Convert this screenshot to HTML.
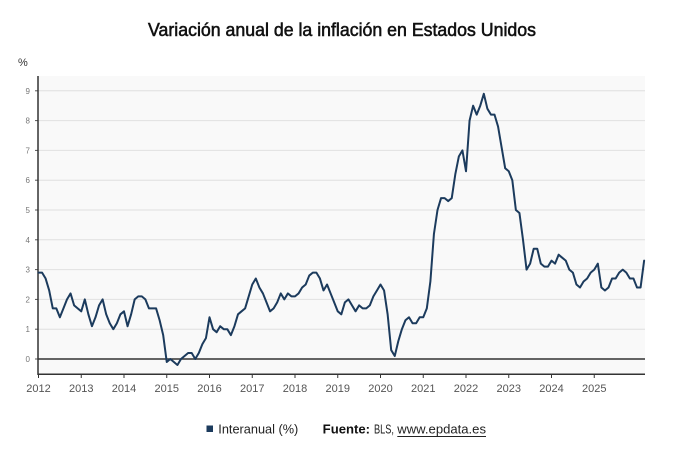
<!DOCTYPE html>
<html><head><meta charset="utf-8"><style>
html,body{margin:0;padding:0;background:#fff;}
svg{display:block;}
</style></head><body>
<svg width="690" height="460" viewBox="0 0 690 460" xmlns="http://www.w3.org/2000/svg" font-family="'Liberation Sans', sans-serif">
<rect x="0" y="0" width="690" height="460" fill="#fff"/>
<text x="342" y="36" font-size="18" fill="#111" stroke="#111" stroke-width="0.55" text-anchor="middle" textLength="388" lengthAdjust="spacingAndGlyphs">Variación anual de la inflación en Estados Unidos</text>
<text x="18" y="66" font-size="11" fill="#333">%</text>
<rect x="38" y="76" width="607" height="298" fill="#f9f9f9"/>
<g stroke="#e0e0e0" stroke-width="1">
<line x1="38" y1="329.2" x2="645" y2="329.2"/>
<line x1="38" y1="299.4" x2="645" y2="299.4"/>
<line x1="38" y1="269.6" x2="645" y2="269.6"/>
<line x1="38" y1="239.8" x2="645" y2="239.8"/>
<line x1="38" y1="210" x2="645" y2="210"/>
<line x1="38" y1="180.2" x2="645" y2="180.2"/>
<line x1="38" y1="150.4" x2="645" y2="150.4"/>
<line x1="38" y1="120.6" x2="645" y2="120.6"/>
<line x1="38" y1="90.8" x2="645" y2="90.8"/>
</g>
<g stroke="#555" stroke-width="1">
<line x1="35" y1="359" x2="38" y2="359"/>
<line x1="35" y1="329.2" x2="38" y2="329.2"/>
<line x1="35" y1="299.4" x2="38" y2="299.4"/>
<line x1="35" y1="269.6" x2="38" y2="269.6"/>
<line x1="35" y1="239.8" x2="38" y2="239.8"/>
<line x1="35" y1="210" x2="38" y2="210"/>
<line x1="35" y1="180.2" x2="38" y2="180.2"/>
<line x1="35" y1="150.4" x2="38" y2="150.4"/>
<line x1="35" y1="120.6" x2="38" y2="120.6"/>
<line x1="35" y1="90.8" x2="38" y2="90.8"/>
</g>
<g font-size="8" fill="#777" text-anchor="end">
<text x="30" y="362">0</text>
<text x="30" y="332.2">1</text>
<text x="30" y="302.4">2</text>
<text x="30" y="272.6">3</text>
<text x="30" y="242.8">4</text>
<text x="30" y="213">5</text>
<text x="30" y="183.2">6</text>
<text x="30" y="153.4">7</text>
<text x="30" y="123.6">8</text>
<text x="30" y="93.8">9</text>
</g>
<line x1="38" y1="359" x2="645" y2="359" stroke="#333" stroke-width="1.5"/>
<line x1="38" y1="374.3" x2="645" y2="374.3" stroke="#333" stroke-width="1.5"/>
<line x1="38" y1="76" x2="38" y2="375" stroke="#333" stroke-width="1.5"/>
<g stroke="#333" stroke-width="1">
<line x1="38.5" y1="374" x2="38.5" y2="378"/>
<line x1="81.25" y1="374" x2="81.25" y2="378"/>
<line x1="124" y1="374" x2="124" y2="378"/>
<line x1="166.75" y1="374" x2="166.75" y2="378"/>
<line x1="209.5" y1="374" x2="209.5" y2="378"/>
<line x1="252.25" y1="374" x2="252.25" y2="378"/>
<line x1="295" y1="374" x2="295" y2="378"/>
<line x1="337.75" y1="374" x2="337.75" y2="378"/>
<line x1="380.5" y1="374" x2="380.5" y2="378"/>
<line x1="423.25" y1="374" x2="423.25" y2="378"/>
<line x1="466" y1="374" x2="466" y2="378"/>
<line x1="508.75" y1="374" x2="508.75" y2="378"/>
<line x1="551.5" y1="374" x2="551.5" y2="378"/>
<line x1="594.25" y1="374" x2="594.25" y2="378"/>
</g>
<g font-size="11" fill="#555" text-anchor="middle">
<text x="38.5" y="392">2012</text>
<text x="81.25" y="392">2013</text>
<text x="124" y="392">2014</text>
<text x="166.75" y="392">2015</text>
<text x="209.5" y="392">2016</text>
<text x="252.25" y="392">2017</text>
<text x="295" y="392">2018</text>
<text x="337.75" y="392">2019</text>
<text x="380.5" y="392">2020</text>
<text x="423.25" y="392">2021</text>
<text x="466" y="392">2022</text>
<text x="508.75" y="392">2023</text>
<text x="551.5" y="392">2024</text>
<text x="594.25" y="392">2025</text>
</g>
<g transform="translate(38.5,359) scale(3.5625,-29.8)">
<polyline fill="none" stroke="#1c3b5d" stroke-width="2" stroke-linejoin="round" stroke-linecap="round" vector-effect="non-scaling-stroke" points="0,2.9 1,2.9 2,2.7 3,2.3 4,1.7 5,1.7 6,1.4 7,1.7 8,2.0 9,2.2 10,1.8 11,1.7 12,1.6 13,2.0 14,1.5 15,1.1 16,1.4 17,1.8 18,2.0 19,1.5 20,1.2 21,1.0 22,1.2 23,1.5 24,1.6 25,1.1 26,1.5 27,2.0 28,2.1 29,2.1 30,2.0 31,1.7 32,1.7 33,1.7 34,1.3 35,0.8 36,-0.1 37,0 38,-0.1 39,-0.2 40,0 41,0.1 42,0.2 43,0.2 44,0 45,0.2 46,0.5 47,0.7 48,1.4 49,1.0 50,0.9 51,1.1 52,1.0 53,1.0 54,0.8 55,1.1 56,1.5 57,1.6 58,1.7 59,2.1 60,2.5 61,2.7 62,2.4 63,2.2 64,1.9 65,1.6 66,1.7 67,1.9 68,2.2 69,2.0 70,2.2 71,2.1 72,2.1 73,2.2 74,2.4 75,2.5 76,2.8 77,2.9 78,2.9 79,2.7 80,2.3 81,2.5 82,2.2 83,1.9 84,1.6 85,1.5 86,1.9 87,2.0 88,1.8 89,1.6 90,1.8 91,1.7 92,1.7 93,1.8 94,2.1 95,2.3 96,2.5 97,2.3 98,1.5 99,0.3 100,0.1 101,0.6 102,1.0 103,1.3 104,1.4 105,1.2 106,1.2 107,1.4 108,1.4 109,1.7 110,2.6 111,4.2 112,5.0 113,5.4 114,5.4 115,5.3 116,5.4 117,6.2 118,6.8 119,7.0 120,6.3 121,8.0 122,8.5 123,8.2 124,8.5 125,8.9 126,8.4 127,8.2 128,8.2 129,7.8 130,7.1 131,6.4 132,6.3 133,6.0 134,5.0 135,4.9 136,4.0 137,3.0 138,3.2 139,3.7 140,3.7 141,3.2 142,3.1 143,3.1 144,3.3 145,3.2 146,3.5 147,3.4 148,3.3 149,3.0 150,2.9 151,2.5 152,2.4 153,2.6 154,2.7 155,2.9 156,3.0 157,3.2 158,2.4 159,2.3 160,2.4 161,2.7 162,2.7 163,2.9 164,3.0 165,2.9 166,2.7 167,2.7 168,2.4 169,2.4 170,3.3"/>
</g>
<rect x="206.5" y="425.5" width="6.5" height="6.5" fill="#1c3b5d"/>
<text x="218.3" y="433.5" font-size="12.5" fill="#222" textLength="80" lengthAdjust="spacingAndGlyphs">Interanual (%)</text>
<text x="322.7" y="433.5" font-size="12.5" font-weight="bold" fill="#111" textLength="47.3" lengthAdjust="spacingAndGlyphs">Fuente:</text>
<text x="374" y="433.5" font-size="12.5" fill="#222" textLength="20" lengthAdjust="spacingAndGlyphs">BLS,</text>
<text x="397.3" y="433.5" font-size="12.5" fill="#222" textLength="88.7" lengthAdjust="spacingAndGlyphs">www.epdata.es</text>
<line x1="397.3" y1="436.5" x2="486" y2="436.5" stroke="#222" stroke-width="0.9"/>
</svg>
</body></html>
